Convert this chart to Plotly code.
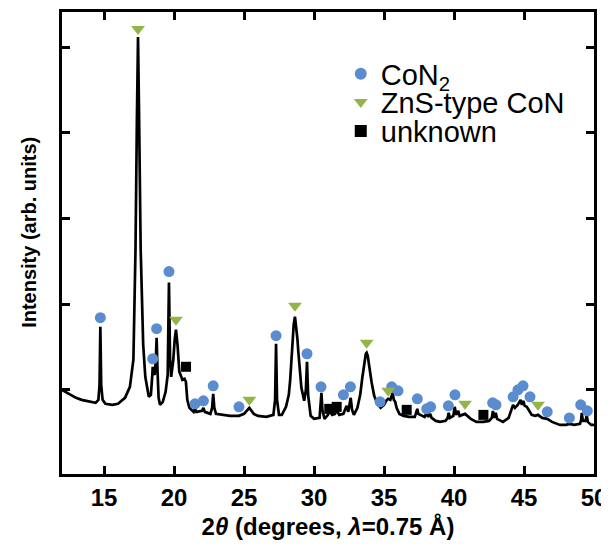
import plotly.graph_objects as go

# ---- XRD pattern (2theta in degrees, intensity in arbitrary units) ----
two_theta = [12.0, 12.5, 13.0, 13.4, 14.0, 14.4, 14.6, 14.68, 14.74, 14.8, 14.9, 15.1, 15.6, 16.0, 16.5,
             16.85, 17.1, 17.25, 17.35, 17.43, 17.5, 17.62, 17.8, 17.95, 18.2, 18.35, 18.45, 18.48, 18.55,
             18.62, 18.7, 18.76, 18.82, 18.9, 19.0, 19.2, 19.4, 19.55, 19.64, 19.72, 19.8, 19.95, 20.05,
             20.14, 20.25, 20.38, 20.52, 20.6, 20.75, 20.85, 20.95, 21.1, 21.4, 21.5, 21.6, 22.0, 22.1,
             22.2, 22.6, 22.72, 22.8, 22.88, 23.0, 23.5, 24.0, 24.64, 25.0, 25.38, 25.7, 26.0, 26.6, 27.1,
             27.22, 27.29, 27.36, 27.5, 27.7, 28.0, 28.2, 28.3, 28.4, 28.48, 28.55, 28.64, 28.75, 28.82,
             28.88, 29.0, 29.1, 29.3,
             29.42, 29.5, 29.58, 29.76, 30.0, 30.4, 30.48, 30.53, 30.6, 30.75, 31.0, 31.1, 31.3, 31.5,
             31.62, 31.8, 32.1, 32.2, 32.33, 32.45, 32.55, 32.62, 32.72, 32.85, 33.1, 33.3, 33.45, 33.55,
             33.62, 33.7, 33.76, 33.84, 33.9, 34.0, 34.12, 34.3, 34.5, 34.76, 35.0, 35.2, 35.3, 35.45,
             35.55, 35.62, 35.7, 35.8,
             35.9, 36.1, 36.4, 36.8, 37.2, 37.32, 37.38, 37.45, 37.9, 38.05, 38.15, 38.3, 38.4, 38.7,
             39.0, 39.4, 39.55, 39.62, 39.7, 39.95, 40.05, 40.15, 40.3, 40.4, 40.79, 41.2, 41.6, 42.1,
             42.5, 42.7, 42.78, 42.86, 42.98, 43.08, 43.5, 43.9, 44.12, 44.22, 44.35, 44.55, 44.76, 44.85,
             44.95, 45.05, 45.2, 45.4, 45.55, 45.8, 46.0, 46.3, 46.66, 47.0, 47.57, 48.0, 48.24, 48.6,
             49.0, 49.08, 49.13, 49.2, 49.4, 49.48, 49.56, 49.8, 50.0]
intensity = [0, -4, -8, -10, -12, -13, -10, 5, 63, 5, -10, -14, -15, -14, -8,
             3, 30, 140, 270, 352, 280, 140, 45, 13, -7, -5, 15, 23, 17,
             15, 30, 52, 20, -8, -15, -12, -2, 15, 107, 30, 13, 30, 50,
             60, 45, 18, 13, 10, 11, 8, -10, -18, -22, -19, -22, -21, -18,
             -22, -24, -18, -4, -18, -24, -25, -26, -26, -24, -18, -24, -26, -27, -25,
             -10, 46, -10, -25, -25, -17, -5, 10, 33, 54, 65, 73, 62, 50,
             38, 15, 2, -11,
             0, 28, -5, -26, -29, -28, -15, -3, -20, -29, -25, -21, -25, -24,
             -20, -25, -24, -20, -16, -22, -15, -8, -20, -25, -18, -5, 12, 22,
             30, 36, 37, 34, 28, 18, 7, -6, -13, -18, -15, -10, -9, -10,
             -5, -3, -10, -12,
             -18, -24, -26, -27, -27, -22, -19, -24, -27, -23, -27, -24, -28, -31,
             -32, -31, -28, -23, -28, -26, -17, -25, -21, -26, -24, -29, -32, -32,
             -31, -28, -21, -28, -23, -29, -32, -28, -20, -15, -18, -15, -10, -15,
             -11, -16, -17, -22, -25, -26, -25, -28, -29, -32, -35, -35, -34, -35,
             -34, -30, -23, -31, -31, -25, -32, -35, -35]

# ---- phase markers ----
con2_x = [14.74, 18.48, 18.76, 19.64, 21.5, 22.1, 22.8, 24.64, 27.29, 29.5, 30.5, 32.1, 32.6, 34.72,
          35.55, 36.0, 37.38, 38.05, 38.33, 39.6, 40.07, 42.76, 43.0, 44.22, 44.57, 44.93, 45.43,
          46.66, 48.24, 49.05, 49.52]
con2_y = [72, 31, 61, 118, -14, -11, 4, -17, 54, 36, 3, -5, 3, -12,
          3, -1, -9, -19, -17, -16, -5, -13, -15, -7, 0, 4, -7,
          -22, -28, -15, -21]

zns_x = [17.43, 20.14, 25.38, 28.64, 33.76, 35.3, 40.79, 46.0]
zns_y = [360, 70, -10, 84, 47, -1, -14, -15]

unk_x = [20.86, 31.09, 31.62, 36.62, 42.1]
unk_y = [23, -19, -17, -20, -25]

x_ticks = [15, 20, 25, 30, 35, 40, 45, 50]

BLUE = "#5a8ccf"
GREEN = "#92b54a"
FONT = "Liberation Sans, Arial, sans-serif"

fig = go.Figure()
fig.add_trace(go.Scatter(x=two_theta, y=intensity, mode="lines",
                         line=dict(color="black", width=2.7), showlegend=False,
                         hoverinfo="skip"))
fig.add_trace(go.Scatter(x=con2_x, y=con2_y, mode="markers", name="CoN<sub>2</sub>",
                         legend="legend",
                         marker=dict(symbol="circle", size=11, color=BLUE)))
fig.add_trace(go.Scatter(x=zns_x, y=zns_y, mode="markers", name="ZnS-type CoN",
                         legend="legend2",
                         marker=dict(symbol="triangle-down", size=12, color=GREEN)))
fig.add_trace(go.Scatter(x=unk_x, y=unk_y, mode="markers", name="unknown",
                         legend="legend3",
                         marker=dict(symbol="square", size=10, color="black")))

leg_common = dict(xanchor="left", yanchor="middle", bgcolor="rgba(0,0,0,0)",
                  font=dict(size=29, family=FONT, color="black"), itemsizing="constant")

fig.update_layout(
    width=609, height=545,
    margin=dict(l=54, r=23, t=4, b=79),
    paper_bgcolor="white", plot_bgcolor="white",
    font=dict(family=FONT, color="black"),
    legend=dict(x=0.524, y=0.866, **leg_common),
    legend2=dict(x=0.524, y=0.805, **leg_common),
    legend3=dict(x=0.524, y=0.742, **leg_common),
    xaxis=dict(range=[12, 50], tickvals=x_ticks, ticktext=[f"<b>{t}</b>" for t in x_ticks],
               ticks="inside", ticklen=8, tickwidth=2.5, tickcolor="black",
               showline=True, linewidth=2.5, linecolor="black", mirror="ticks",
               showgrid=False, zeroline=False, automargin=False,
               tickfont=dict(size=24, family=FONT),
               title=dict(text="<b>2<i>θ</i> (degrees, <i>λ</i>=0.75 Å)</b>",
                          font=dict(size=24, family=FONT), standoff=9)),
    yaxis=dict(range=[-84, 377], tick0=0, dtick=85.5, showticklabels=False,
               ticks="inside", ticklen=8, tickwidth=2.5, tickcolor="black",
               showline=True, linewidth=2.5, linecolor="black", mirror="ticks",
               showgrid=False, zeroline=False, automargin=False),
    annotations=[dict(text="<b>Intensity (arb. units)</b>", xref="paper", yref="paper",
                      x=-0.062, y=0.522, xanchor="center", yanchor="middle",
                      textangle=-90, showarrow=False,
                      font=dict(size=20, family=FONT, color="black"))],
)

fig.write_html("out.html")
